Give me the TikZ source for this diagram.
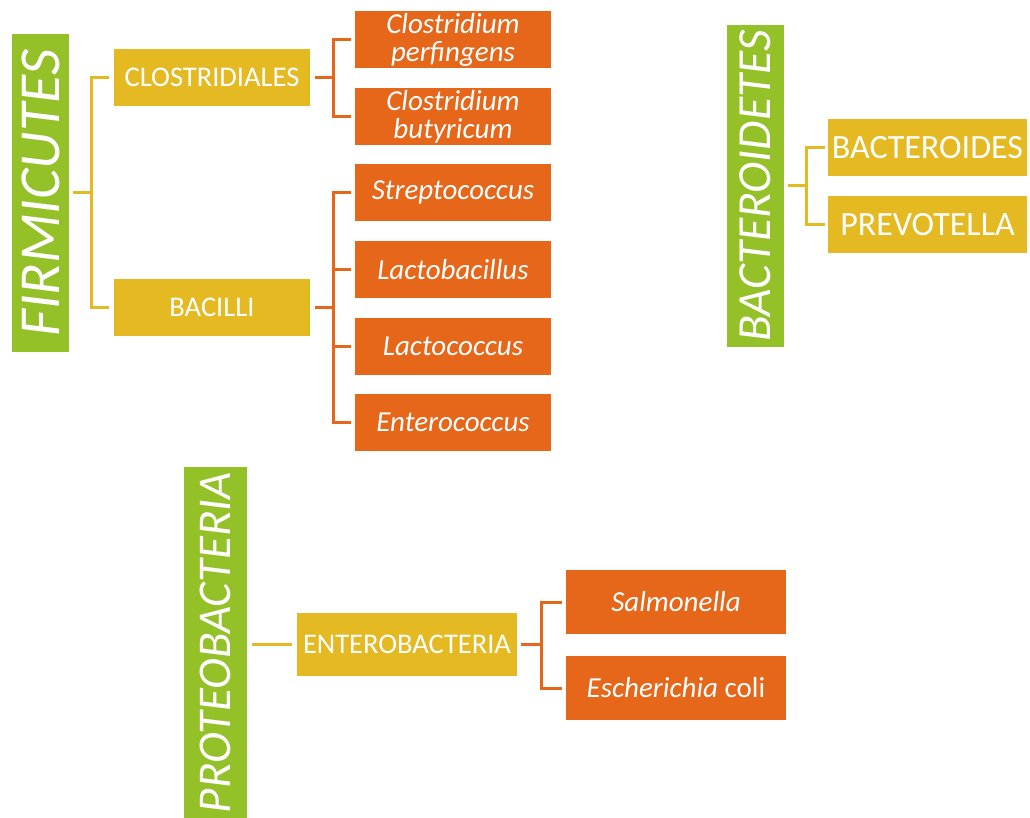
\documentclass[tikz,border=0pt]{standalone}
\usepackage{fontspec}
\setmainfont{Carlito}
\definecolor{cgreen}{RGB}{147,193,39}
\definecolor{cyellow}{RGB}{228,185,33}
\definecolor{corange}{RGB}{230,102,26}
\begin{document}
\begin{tikzpicture}[x=1pt,y=-1pt,
  gbox/.style={fill=cgreen,draw=none,inner sep=0pt,text=white,minimum width=57pt},
  ybox/.style={fill=cyellow,draw=none,inner sep=0pt,text=white,minimum height=57pt,font=\fontsize{28.5}{30}\selectfont},
  obox/.style={fill=corange,draw=none,inner sep=0pt,text=white,minimum width=196pt,minimum height=57pt,align=center,font=\fontsize{29}{28}\selectfont\itshape},
  yline/.style={draw=cyellow,line width=3pt},
  oline/.style={draw=corange,line width=3pt}]
\useasboundingbox (0,0) rectangle (1030,818);
% phyla
\node[gbox,minimum height=318pt] (firm) at (40.5,193) {\rotatebox{90}{\fontsize{58}{58}\selectfont\itshape FIRMICUTES}};
\node[gbox,minimum height=322pt] (bact) at (755.5,186) {\rotatebox{90}{\fontsize{47.5}{48}\selectfont\itshape BACTEROIDETES}};
\node[gbox,minimum width=63pt,minimum height=351pt] (prot) at (215.5,642.5) {\rotatebox{90}{\fontsize{47}{48}\selectfont\itshape PROTEOBACTERIA}};
% orders / genera (yellow)
\node[ybox,minimum width=196pt] (clos) at (212,77.5) {CLOSTRIDIALES};
\node[ybox,minimum width=196pt] (bac) at (212,307.5) {BACILLI};
\node[ybox,minimum width=199pt,font=\fontsize{34}{36}\selectfont] (bcd) at (927.5,147.5) {BACTEROIDES};
\node[ybox,minimum width=199pt,font=\fontsize{34}{36}\selectfont] (prev) at (927.5,225) {PREVOTELLA};
\node[ybox,minimum width=220pt,minimum height=63pt] (ent) at (407,644.5) {ENTEROBACTERIA};
% species (orange)
\node[obox] (cp) at (453,39.5) {Clostridium\\perfingens};
\node[obox] (cb) at (453,116.5) {Clostridium\\butyricum};
\node[obox] (strep) at (453,192.5) {Streptococcus};
\node[obox] (lactob) at (453,269.5) {Lactobacillus};
\node[obox] (lactoc) at (453,346) {Lactococcus};
\node[obox] (entc) at (453,422.5) {Enterococcus};
\node[obox,minimum width=220pt,minimum height=64pt] (salm) at (676,602) {Salmonella};
\node[obox,minimum width=220pt,minimum height=64pt] (ecoli) at (676,688) {Escherichia \upshape coli};
% connectors
\foreach \t in {clos,bac}
  \draw[yline] ([xshift=4pt]firm.east) -- ([xshift=22pt]firm.east) |- ([xshift=-5pt]\t.west);
\foreach \t in {cp,cb}
  \draw[oline] ([xshift=5pt]clos.east) -- ([xshift=23pt]clos.east) |- ([xshift=-4pt]\t.west);
\foreach \t in {strep,lactob,lactoc,entc}
  \draw[oline] ([xshift=5pt]bac.east) -- ([xshift=23pt]bac.east) |- ([xshift=-4pt]\t.west);
\foreach \t in {bcd,prev}
  \draw[yline] ([xshift=4pt]bact.east) -- ([xshift=22pt]bact.east) |- ([xshift=-3pt]\t.west);
\draw[yline] ([xshift=5pt]prot.east |- ent.west) -- ([xshift=-5pt]ent.west);
\foreach \t in {salm,ecoli}
  \draw[oline] ([xshift=4pt]ent.east) -- ([xshift=24pt]ent.east) |- ([xshift=-4pt]\t.west);
\end{tikzpicture}
\end{document}
